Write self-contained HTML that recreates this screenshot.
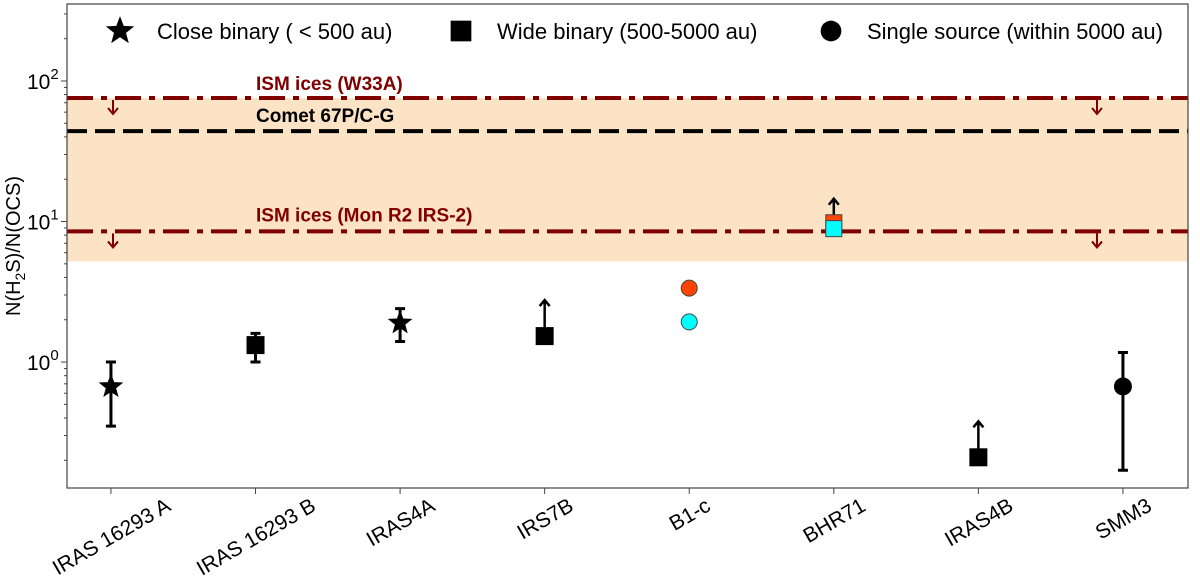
<!DOCTYPE html>
<html><head><meta charset="utf-8"><style>
body{margin:0;background:#fff}
svg text{font-family:"Liberation Sans","DejaVu Sans",sans-serif}
</style></head><body>
<svg id="chart" width="1200" height="579" xmlns="http://www.w3.org/2000/svg">
<rect x="0" y="0" width="1200" height="579" fill="#fff"/>
<g id="plot"></g>
</svg>
<script>
const categories=["IRAS 16293 A","IRAS 16293 B","IRAS4A","IRS7B","B1-c","BHR71","IRAS4B","SMM3"];
const markers=["star","square","star","square","circle","square","square","circle"];
const values=[0.67,1.32,1.9,1.53,null,null,0.21,0.67];
const errLow=[0.35,1.0,1.4,null,null,null,null,0.17];
const errHigh=[1.0,1.6,2.4,null,null,null,null,1.17];
const lowerLimit=[false,false,false,true,false,false,true,false];
const b1cValues=[3.36,1.93];
const bhr71Values=[9.8,8.9];
const refW33A=75.7, refComet=44, refMonR2=8.5, bandLow=5.2;
const yTicks=[1,10,100];
const yTickLabels=["0","1","2"];

const L=67,R=1188,T=4,B=488;
const yMin=Math.log10(0.127), yMax=Math.log10(353);
const xMin=-0.304, xMax=7.45;
const X=i=>L+(i-xMin)/(xMax-xMin)*(R-L);
const Y=v=>B-(Math.log10(v)-yMin)/(yMax-yMin)*(B-T);
const NS="http://www.w3.org/2000/svg";
const g=document.getElementById('plot');
function el(t,a,p){const e=document.createElementNS(NS,t);for(const k in a)e.setAttribute(k,a[k]);(p||g).appendChild(e);return e;}
function starPath(cx,cy,r){let d="";for(let k=0;k<10;k++){const rr=k%2?r*0.42:r;const a=-Math.PI/2+k*Math.PI/5;d+=(k?"L":"M")+(cx+rr*Math.cos(a)).toFixed(1)+" "+(cy+rr*Math.sin(a)).toFixed(1);}return d+"Z";}
function arrow(x,y1,y2,col,w){return el('path',{d:`M${x} ${y1}L${x} ${y2}M${x-5} ${y2+(y2<y1?6:-6)}L${x} ${y2}L${x+5} ${y2+(y2<y1?6:-6)}`,stroke:col,'stroke-width':w,fill:'none'});}

const band=el('rect',{x:L,y:Y(refW33A),width:R-L,height:Y(bandLow)-Y(refW33A),fill:'#fde3c5'});


function refLine(v,col,dash,name){const l=el('line',{x1:L,x2:R,y1:Y(v),y2:Y(v),stroke:col,'stroke-width':4,'stroke-dasharray':dash});}
refLine(refW33A,'#800000','26 8 6 8','w33a-line');
refLine(refComet,'#000','20 8','comet-line');
refLine(refMonR2,'#800000','26 8 6 8','monr2-line');
[refW33A,refMonR2].forEach(v=>{[113,1097].forEach(x=>{const a=arrow(x,Y(v)+2,Y(v)+16,'#800000',2);});});
function label(txt,x,y,col,name){const t=el('text',{x:x,y:y,'font-size':19,'font-weight':'bold',fill:col});t.textContent=txt;}
label('ISM ices (W33A)',256,Y(refW33A)-8,'#800000','w33a-label');
label('Comet 67P/C-G',256,Y(refComet)-9,'#000','comet-label');
label('ISM ices (Mon R2 IRS-2)',256,Y(refMonR2)-10,'#800000','monr2-label');

const fr=el('rect',{x:L,y:T,width:R-L,height:B-T,fill:'none',stroke:'#444','stroke-width':1.2});

for(let d=-1;d<=2;d++){for(let m=1;m<10;m++){const v=m*Math.pow(10,d);if(Math.log10(v)<yMin||Math.log10(v)>yMax)continue;el('line',{x1:L-(m==1?6:3),x2:L,y1:Y(v),y2:Y(v),stroke:'#444','stroke-width':1});}}
yTicks.forEach((v,i)=>{const t=el('text',{x:27,y:Y(v)+8,'font-size':21,fill:'#000'});t.innerHTML='10<tspan dy="-10" font-size="15">'+yTickLabels[i]+'</tspan>';});
const yl=el('text',{transform:'translate(20,246) rotate(-90)','text-anchor':'middle','font-size':20});
yl.innerHTML='N(H<tspan dy="5" font-size="14">2</tspan><tspan dy="-5">S)/N(OCS)</tspan>';

categories.forEach((c,i)=>{const x=X(i);el('line',{x1:x,x2:x,y1:B,y2:B+6,stroke:'#444'});
const t=el('text',{'text-anchor':'middle','font-size':21});t.textContent=c;


const w=t.getComputedTextLength();const h=21*0.75;
const hh=(w*0.5+h*0.866)/2;
t.setAttribute('transform',`translate(${x},${B+8+hh}) rotate(-30) translate(0,${h/2})`);});

function marker(type,x,y,fill,name,s){s=s||1;let m;
if(type=='star')m=el('path',{d:starPath(x,y,13*s),fill:fill});
else if(type=='square')m=el('rect',{x:x-9*s,y:y-9*s,width:18*s,height:18*s,fill:fill});
else m=el('circle',{cx:x,cy:y,r:9*s,fill:fill});
return m;}

values.forEach((v,i)=>{if(v==null)return;const x=X(i);
if(errLow[i]!=null){const e=el('path',{d:`M${x} ${Y(errLow[i])}L${x} ${Y(errHigh[i])}M${x-5} ${Y(errLow[i])}L${x+5} ${Y(errLow[i])}M${x-5} ${Y(errHigh[i])}L${x+5} ${Y(errHigh[i])}`,stroke:'#000','stroke-width':3,fill:'none'});}
if(lowerLimit[i]){const a=arrow(x,Y(v),Y(v)-36,'#000',2.5);}
marker(markers[i],x,Y(v),'#000','point-'+i);});
const bx=X(4);
const c1=el('circle',{cx:bx,cy:Y(b1cValues[0]),r:8,fill:'#ff4500',stroke:'#444'});
const c2=el('circle',{cx:bx,cy:Y(b1cValues[1]),r:8,fill:'#00ffff',stroke:'#444'});
const hx=X(5);
const a5=arrow(hx,Y(bhr71Values[0])-8,Y(bhr71Values[0])-24,'#000',2.5);
const s1=el('rect',{x:hx-8,y:Y(bhr71Values[0])-8,width:16,height:16,fill:'#ff4500',stroke:'#444'});
const s2=el('rect',{x:hx-8,y:Y(bhr71Values[1])-8,width:16,height:16,fill:'#00ffff',stroke:'#444'});

const leg=[['star',120,'Close binary ( < 500 au)',157],['square',461,'Wide binary (500-5000 au)',497],['circle',831,'Single source (within 5000 au)',867]];
leg.forEach(l=>{marker(l[0],l[1],31,'#000','legend-marker',1.15);const t=el('text',{x:l[3],y:39,'font-size':22});t.textContent=l[2];});
</script>
</body></html>
